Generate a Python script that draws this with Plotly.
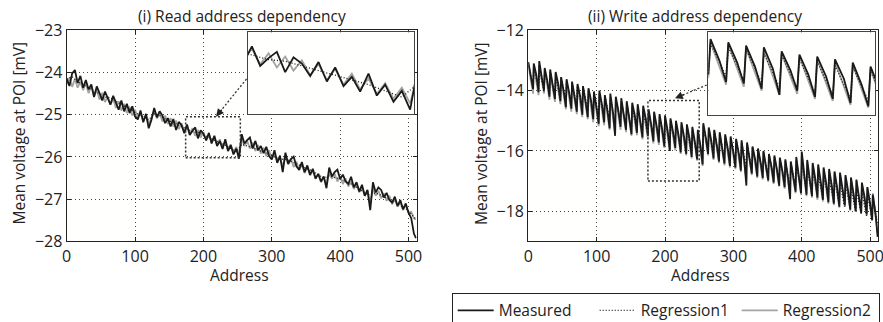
import plotly.graph_objects as go

# ---------------- data ----------------
# (i) Read address dependency : sampled every 4 addresses (0..508) + 511
read_measured = [
    -24.15, -24.32, -24.02, -23.94, -24.25, -24.08, -24.36, -24.18,
    -24.40, -24.28, -24.58, -24.33, -24.49, -24.66, -24.45, -24.60,
    -24.76, -24.55, -24.70, -24.88, -24.66, -24.92, -24.74, -24.96,
    -24.80, -25.04, -25.11, -24.90, -25.18, -24.98, -25.32, -25.12,
    -24.84, -25.06, -24.92, -25.02, -25.20, -25.08, -25.28, -25.10,
    -25.36, -25.17, -25.25, -25.44, -25.23, -25.48, -25.38, -25.30,
    -25.56, -25.37, -25.45, -25.61, -25.43, -25.68, -25.50, -25.74,
    -25.62, -25.81, -25.58, -25.86, -25.72, -25.94, -25.80, -26.04,
    -25.46, -25.68, -25.60, -25.54, -25.80, -25.62, -25.84, -25.74,
    -25.91, -25.76, -25.98, -26.06, -25.84, -26.14, -25.97, -26.36,
    -25.90, -26.16, -26.05, -25.99, -26.22, -26.30, -26.12, -26.36,
    -26.20, -26.42, -26.28, -26.51, -26.40, -26.58, -26.46, -26.74,
    -26.25, -26.46, -26.36, -26.30, -26.52, -26.42, -26.58, -26.64,
    -26.47, -26.72, -26.60, -26.82, -26.66, -26.92, -26.78, -27.26,
    -26.60, -26.84, -26.72, -26.78, -26.96, -26.85, -27.02, -27.08,
    -26.94, -27.16, -27.02, -27.24, -27.10, -27.32, -27.45, -27.82,
    -27.92,
]
read_reg2 = [
    -24.28, -24.12, -24.34, -24.15, -24.36, -24.22, -24.42, -24.26,
    -24.49, -24.32, -24.56, -24.41, -24.64, -24.48, -24.70, -24.56,
    -24.76, -24.62, -24.84, -24.68, -24.90, -24.74, -24.96, -24.81,
    -25.02, -24.88, -25.08, -24.94, -25.14, -25.01, -25.22, -25.06,
    -24.92, -25.09, -24.96, -25.16, -25.02, -25.22, -25.08, -25.28,
    -25.14, -25.34, -25.20, -25.40, -25.26, -25.46, -25.32, -25.50,
    -25.36, -25.54, -25.41, -25.60, -25.46, -25.66, -25.52, -25.72,
    -25.58, -25.78, -25.64, -25.84, -25.70, -25.90, -25.76, -25.96,
    -25.56, -25.74, -25.62, -25.80, -25.66, -25.86, -25.72, -25.92,
    -25.78, -25.98, -25.84, -26.04, -25.92, -26.12, -26.00, -26.24,
    -25.98, -26.18, -26.04, -26.24, -26.11, -26.32, -26.18, -26.38,
    -26.24, -26.44, -26.32, -26.52, -26.40, -26.60, -26.48, -26.66,
    -26.36, -26.52, -26.40, -26.58, -26.46, -26.64, -26.51, -26.70,
    -26.58, -26.76, -26.64, -26.84, -26.72, -26.92, -26.80, -27.09,
    -26.74, -26.92, -26.80, -26.98, -26.86, -27.04, -26.92, -27.12,
    -27.00, -27.18, -27.06, -27.26, -27.14, -27.32, -27.30, -27.46,
    -27.48,
]
# Regression1 (read): sampled every 8 addresses (0..504) + 511
read_reg1 = [
    -24.15, -24.10, -24.22, -24.28, -24.36, -24.44, -24.52, -24.58,
    -24.60, -24.68, -24.76, -24.84, -24.90, -24.98, -25.05, -25.12,
    -24.98, -25.02, -25.10, -25.16, -25.22, -25.28, -25.34, -25.40,
    -25.42, -25.48, -25.54, -25.60, -25.66, -25.72, -25.80, -25.88,
    -25.70, -25.74, -25.78, -25.84, -25.88, -25.94, -26.00, -26.06,
    -26.05, -26.10, -26.16, -26.22, -26.28, -26.34, -26.42, -26.50,
    -26.45, -26.48, -26.52, -26.58, -26.64, -26.72, -26.80, -26.90,
    -26.85, -26.88, -26.94, -27.00, -27.06, -27.14, -27.22, -27.35,
    -27.48,
]
addr_read = list(range(0, 512, 4)) + [511]
addr_read_reg1 = list(range(0, 512, 8)) + [511]

# (ii) Write address dependency: one sawtooth per 8 addresses
# peak at 8k, mid at 8k+4, trough at 8k+7
write_meas_peak = [
    -13.05, -13.10, -13.02, -13.25, -13.30, -13.38, -13.55, -13.62,
    -13.70, -13.78, -13.85, -13.92, -14.05, -14.00, -14.15, -14.10,
    -14.20, -14.25, -14.35, -14.40, -14.45, -14.50, -14.62, -14.70,
    -14.78, -14.82, -14.92, -15.00, -15.05, -15.12, -15.20, -15.30,
    -15.08, -15.22, -15.30, -15.38, -15.45, -15.52, -15.60, -15.65,
    -15.72, -15.85, -15.92, -16.00, -16.10, -16.15, -16.22, -16.28,
    -16.35, -16.20, -16.02, -16.30, -16.40, -16.45, -16.55, -16.60,
    -16.68, -16.72, -16.80, -16.88, -16.95, -17.05, -17.20, -17.45,
]
write_meas_mid = [
    -13.55, -13.50, -13.60, -13.70, -13.85, -13.80, -14.05, -14.10,
    -14.25, -14.20, -14.40, -14.35, -14.60, -14.50, -14.70, -14.75,
    -14.70, -14.80, -14.90, -14.85, -15.05, -14.95, -15.15, -15.20,
    -15.30, -15.35, -15.40, -15.50, -15.55, -15.60, -15.75, -15.85,
    -15.60, -15.70, -15.85, -15.90, -15.95, -16.05, -16.10, -16.35,
    -16.25, -16.30, -16.40, -16.50, -16.55, -16.65, -16.70, -16.90,
    -16.85, -16.80, -16.75, -16.90, -16.95, -17.05, -17.10, -17.15,
    -17.25, -17.30, -17.35, -17.45, -17.50, -17.55, -17.75, -18.10,
]
write_meas_trough = [
    -13.95, -14.05, -13.98, -14.20, -14.28, -14.35, -14.55, -14.60,
    -14.70, -14.80, -14.88, -14.95, -15.10, -15.05, -15.25, -15.50,
    -15.20, -15.30, -15.45, -15.40, -15.55, -15.50, -15.68, -15.72,
    -15.85, -16.00, -15.90, -16.05, -16.10, -16.20, -16.28, -16.45,
    -16.10, -16.25, -16.35, -16.42, -16.50, -16.55, -16.65, -17.15,
    -16.75, -16.85, -16.90, -16.98, -17.05, -17.15, -17.20, -17.60,
    -17.35, -17.40, -17.45, -17.50, -17.55, -17.62, -17.70, -17.75,
    -17.85, -17.80, -17.95, -18.00, -18.05, -18.10, -18.30, -18.85,
]
write_reg1_peak = [
    -13.10, -13.20, -13.22, -13.32, -13.38, -13.50, -13.55, -13.65,
    -13.70, -13.80, -13.84, -13.95, -14.00, -14.10, -14.15, -14.25,
    -14.28, -14.38, -14.42, -14.52, -14.58, -14.68, -14.72, -14.82,
    -14.88, -14.98, -15.02, -15.12, -15.18, -15.28, -15.32, -15.42,
    -15.20, -15.30, -15.34, -15.44, -15.50, -15.60, -15.64, -15.74,
    -15.80, -15.90, -15.94, -16.04, -16.10, -16.20, -16.24, -16.34,
    -16.38, -16.48, -16.52, -16.62, -16.68, -16.78, -16.82, -16.92,
    -16.98, -17.08, -17.12, -17.22, -17.28, -17.38, -17.42, -17.55,
]
write_reg1_trough = [
    -13.90, -14.00, -14.05, -14.15, -14.20, -14.30, -14.35, -14.45,
    -14.52, -14.62, -14.66, -14.76, -14.82, -14.92, -14.96, -15.06,
    -15.10, -15.20, -15.24, -15.34, -15.40, -15.50, -15.54, -15.64,
    -15.70, -15.80, -15.84, -15.94, -16.00, -16.10, -16.14, -16.24,
    -16.00, -16.10, -16.14, -16.24, -16.30, -16.40, -16.44, -16.54,
    -16.60, -16.70, -16.74, -16.84, -16.90, -17.00, -17.04, -17.14,
    -17.18, -17.28, -17.32, -17.42, -17.48, -17.58, -17.62, -17.72,
    -17.78, -17.88, -17.92, -18.02, -18.08, -18.18, -18.25, -18.45,
]
write_reg2_peak = [
    -13.15, -13.20, -13.15, -13.30, -13.40, -13.45, -13.60, -13.70,
    -13.75, -13.85, -13.90, -14.00, -14.10, -14.10, -14.20, -14.20,
    -14.28, -14.35, -14.42, -14.48, -14.55, -14.60, -14.70, -14.75,
    -14.85, -14.90, -14.98, -15.05, -15.12, -15.18, -15.25, -15.35,
    -15.15, -15.28, -15.35, -15.42, -15.50, -15.58, -15.65, -15.72,
    -15.78, -15.88, -15.95, -16.05, -16.12, -16.20, -16.26, -16.32,
    -16.40, -16.30, -16.15, -16.38, -16.45, -16.52, -16.60, -16.66,
    -16.72, -16.78, -16.85, -16.92, -17.00, -17.08, -17.22, -17.40,
]
write_reg2_trough = [
    -14.10, -14.15, -14.10, -14.30, -14.38, -14.45, -14.62, -14.70,
    -14.78, -14.88, -14.95, -15.05, -15.18, -15.15, -15.30, -15.45,
    -15.30, -15.38, -15.50, -15.48, -15.62, -15.58, -15.75, -15.80,
    -15.90, -16.00, -15.98, -16.10, -16.15, -16.25, -16.32, -16.50,
    -16.15, -16.30, -16.40, -16.48, -16.55, -16.60, -16.70, -16.95,
    -16.80, -16.90, -16.95, -17.02, -17.10, -17.18, -17.25, -17.50,
    -17.40, -17.45, -17.50, -17.55, -17.62, -17.68, -17.75, -17.80,
    -17.88, -17.85, -17.98, -18.02, -18.08, -18.12, -18.30, -18.70,
]

x_ticks = [0, 100, 200, 300, 400, 500]
read_y_ticks = [-28, -27, -26, -25, -24, -23]
write_y_ticks = [-18, -16, -14, -12]
series_names = ["Measured", "Regression1", "Regression2"]
titles = ["(i) Read address dependency", "(ii) Write address dependency"]
x_title = "Address"
y_title = "Mean voltage at POI [mV]"

# zoom boxes (data coords)
read_box_x, read_box_y = [174, 254], [-26.02, -25.05]
write_box_x, write_box_y = [175, 250], [-17.0, -14.33]
read_inset_y = [-26.1, -25.05]
write_inset_y = [-16.5, -14.45]


def sawtooth(peaks, troughs, mids=None):
    xs, ys = [], []
    for k in range(len(peaks)):
        xs.append(8 * k); ys.append(peaks[k])
        if mids is not None:
            xs.append(8 * k + 4); ys.append(mids[k])
        xs.append(8 * k + 7); ys.append(troughs[k])
    return xs, ys


wm_x, wm_y = sawtooth(write_meas_peak, write_meas_trough, write_meas_mid)
w1_x, w1_y = sawtooth(write_reg1_peak, write_reg1_trough)
w2_x, w2_y = sawtooth(write_reg2_peak, write_reg2_trough)

# ---------------- figure ----------------
W, H = 883, 322
FONT = "Open Sans"
BLACK = "#1a1a1a"
GRAY = "#a3a3a3"


def fx(px):
    return px / W


def fy(py):
    return 1 - py / H


fig = go.Figure()

panels = [
    ("x", "y", addr_read, read_measured, addr_read_reg1, read_reg1, addr_read, read_reg2, True),
    ("x3", "y3", addr_read, read_measured, addr_read_reg1, read_reg1, addr_read, read_reg2, False),
    ("x2", "y2", wm_x, wm_y, w1_x, w1_y, w2_x, w2_y, False),
    ("x4", "y4", wm_x, wm_y, w1_x, w1_y, w2_x, w2_y, False),
]
for xa, ya, mx, my, r1x, r1y, r2x, r2y, leg in panels:
    fig.add_trace(go.Scatter(x=r2x, y=r2y, mode="lines", name=series_names[2],
                             line=dict(color=GRAY, width=1.8), xaxis=xa, yaxis=ya,
                             showlegend=leg, legendrank=3))
    fig.add_trace(go.Scatter(x=mx, y=my, mode="lines", name=series_names[0],
                             line=dict(color=BLACK, width=1.8), xaxis=xa, yaxis=ya,
                             showlegend=leg, legendrank=1))
    fig.add_trace(go.Scatter(x=r1x, y=r1y, mode="lines", name=series_names[1],
                             line=dict(color=BLACK, width=1.3, dash="1px,2px"), xaxis=xa, yaxis=ya,
                             showlegend=leg, legendrank=2))

main_axis = dict(showline=True, linecolor="#222", linewidth=1.2, mirror="ticks",
                 ticks="inside", ticklen=4, tickcolor="#222",
                 showgrid=True, gridcolor="#444", griddash="1px,3px", gridwidth=1,
                 zeroline=False, ticklabeloverflow="allow",
                 tickfont=dict(family=FONT, size=16, color="#222"))
inset_axis = dict(showline=True, linecolor="#444", linewidth=1.2, mirror=True,
                  ticks="", showticklabels=False, showgrid=False, zeroline=False)

ydom = [fy(241.4), fy(30.3)]
fig.update_layout(
    width=W, height=H,
    margin=dict(l=0, r=0, t=0, b=0, autoexpand=False),
    paper_bgcolor="white", plot_bgcolor="#fffffe",
    font=dict(family=FONT, size=15.5, color="#222"),
    xaxis=dict(main_axis, domain=[fx(66.7), fx(416.7)], range=[0, 512], tickvals=x_ticks, anchor="y"),
    yaxis=dict(main_axis, domain=ydom, range=[-28, -23], tickvals=read_y_ticks, anchor="x"),
    xaxis2=dict(main_axis, domain=[fx(528.3), fx(878.3)], range=[0, 512], tickvals=x_ticks, anchor="y2"),
    yaxis2=dict(main_axis, domain=ydom, range=[-19, -12], tickvals=write_y_ticks, anchor="x2"),
    xaxis3=dict(inset_axis, domain=[fx(247.7), fx(414.3)], range=read_box_x, anchor="y3"),
    yaxis3=dict(inset_axis, domain=[fy(114.3), fy(32.3)], range=read_inset_y, anchor="x3"),
    xaxis4=dict(inset_axis, domain=[fx(708.3), fx(875.0)], range=write_box_x, anchor="y4"),
    yaxis4=dict(inset_axis, domain=[fy(115.0), fy(32.3)], range=write_inset_y, anchor="x4"),
    legend=dict(orientation="h", x=fx(451.7), xanchor="left", y=fy(292.7), yanchor="top",
                bordercolor="#222", borderwidth=1, bgcolor="white",
                font=dict(family=FONT, size=15.5, color="#222"),
                itemwidth=36, entrywidth=91, entrywidthmode="pixels", traceorder="normal"),
    showlegend=True,
)

# zoom boxes
for xr, yr, xa, ya in [(read_box_x, read_box_y, "x", "y"), (write_box_x, write_box_y, "x2", "y2")]:
    fig.add_shape(type="rect", xref=xa, yref=ya, x0=xr[0], x1=xr[1], y0=yr[0], y1=yr[1],
                  line=dict(color="#333", width=1.5, dash="2px,2px"), layer="above")

# arrows (dotted shaft + head)
arrows = [((246.5, 79.0), (216.0, 116.7)), ((706.7, 85.0), (675.0, 98.3))]
for (sx, sy), (tx, ty) in arrows:
    dx, dy = tx - sx, ty - sy
    L = (dx ** 2 + dy ** 2) ** 0.5
    ux, uy = dx / L, dy / L
    fig.add_shape(type="line", xref="paper", yref="paper",
                  x0=fx(sx), y0=fy(sy), x1=fx(tx - ux * 6), y1=fy(ty - uy * 6),
                  line=dict(color="#333", width=1.3, dash="2px,2px"))
    fig.add_annotation(x=fx(tx), y=fy(ty), xref="paper", yref="paper", text="",
                       showarrow=True, arrowhead=2, arrowsize=1.3, arrowwidth=1.2,
                       arrowcolor="#222", ax=-ux * 11, ay=-uy * 11)

# texts
fig.add_annotation(x=fx(242), y=fy(16.5), xref="paper", yref="paper", text=titles[0],
                   showarrow=False, font=dict(size=15.5), xanchor="center", yanchor="middle")
fig.add_annotation(x=fx(695), y=fy(16.5), xref="paper", yref="paper", text=titles[1],
                   showarrow=False, font=dict(size=15.5), xanchor="center", yanchor="middle")
for cx in (240, 700):
    fig.add_annotation(x=fx(cx), y=fy(275), xref="paper", yref="paper", text=x_title,
                       showarrow=False, font=dict(size=15.5), xanchor="center", yanchor="middle")
for cx in (18.5, 481):
    fig.add_annotation(x=fx(cx), y=fy(133), xref="paper", yref="paper", text=y_title,
                       showarrow=False, textangle=-90, font=dict(size=15.5),
                       xanchor="center", yanchor="middle")

fig.write_html("out.html", config={"displayModeBar": False},
               post_script="document.body.style.margin='0';")
